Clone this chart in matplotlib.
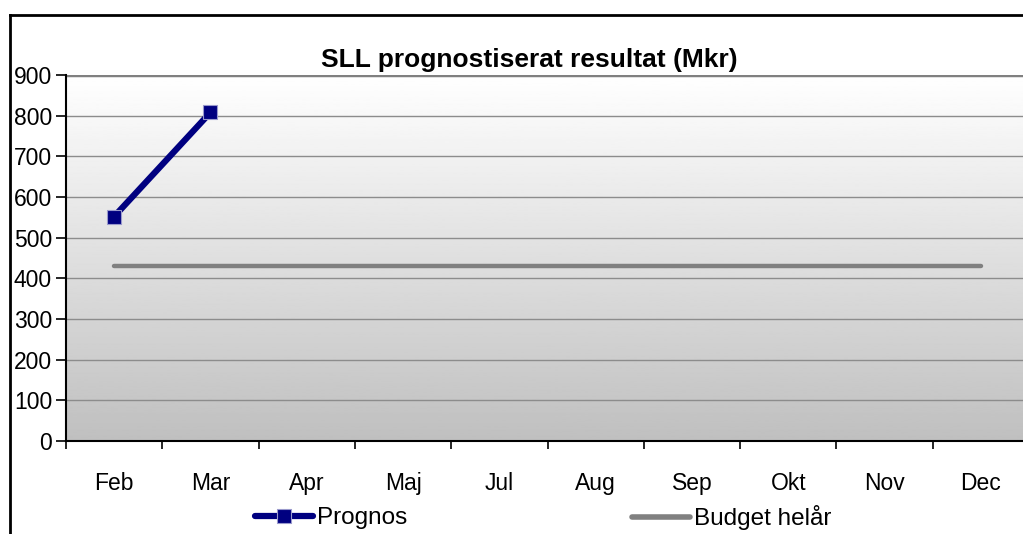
import numpy as np
import matplotlib.pyplot as plt
from matplotlib.lines import Line2D

plt.rcParams['font.family'] = ['Liberation Sans', 'DejaVu Sans']

months = ['Feb', 'Mar', 'Apr', 'Maj', 'Jul', 'Aug', 'Sep', 'Okt', 'Nov', 'Dec']
prognos = [552, 808]
budget = [430] * len(months)

W, H = 1023, 534
fig = plt.figure(figsize=(W / 100, H / 100), dpi=100)

# plot area (runs a bit past the right edge, like the original)
left, right, top, bottom = 66, 1029, 75, 441
ax = fig.add_axes([left / W, 1 - bottom / H, (right - left) / W, (bottom - top) / H])

# vertical gradient background, white to grey
grad = np.linspace(1.0, 0.75, 256).reshape(-1, 1)
ax.imshow(grad, cmap='gray', vmin=0, vmax=1, aspect='auto',
          extent=[0, 1, 0, 1], transform=ax.transAxes, zorder=0)

x = np.arange(len(months))
ax.plot(x, budget, color='#808080', lw=3.2, solid_capstyle='round', zorder=3)
ax.plot(x[:len(prognos)], prognos, color='#000080', lw=4.5, marker='s', ms=9.5,
        mfc='#000080', mec='#9999cc', mew=0.8, zorder=4)

ax.set_xlim(-0.5, len(months) - 0.5)
ax.set_ylim(0, 900)
ax.set_yticks(range(0, 901, 100))
ax.yaxis.grid(True, color='#8c8c8c', lw=1)
for gl in ax.get_ygridlines():
    gl.set_zorder(1)

ax.set_xticks(np.arange(-0.5, len(months) + 0.5, 1))
ax.set_xticklabels([])
ax.set_xticks(x, minor=True)
ax.set_xticklabels(months, minor=True, fontsize=16.5)
ax.tick_params(axis='x', which='minor', length=0, pad=22)
ax.tick_params(axis='x', which='major', direction='out', length=6, width=1.2, color='black')
ax.tick_params(axis='y', direction='out', length=7, width=1.2, labelsize=16.5, pad=3)

for s in ['top', 'right']:
    ax.spines[s].set_visible(False)
ax.spines['left'].set_linewidth(1.5)
ax.spines['bottom'].set_linewidth(1.5)
ax.axhline(900, color='#808080', lw=2.5, zorder=2)

fig.text(0.517, 1 - 60 / H, 'SLL prognostiserat resultat (Mkr)', ha='center',
         va='center', fontsize=19, fontweight='bold')

# outer chart border (left and top only visible)
fig.add_artist(Line2D([10 / W, 10 / W], [0, 1 - 15 / H], color='black', lw=2,
                      transform=fig.transFigure))
fig.add_artist(Line2D([10 / W, 1], [1 - 15 / H, 1 - 15 / H], color='black', lw=2,
                      transform=fig.transFigure))

h_prog = Line2D([], [], color='#000080', lw=4.5, marker='s', ms=9.5, mfc='#000080',
                mec='#9999cc', mew=0.8, solid_capstyle='round')
h_bud = Line2D([], [], color='#808080', lw=4, solid_capstyle='round')
for h, lab, xpos in [(h_prog, 'Prognos', 255), (h_bud, 'Budget helår', 632)]:
    fig.legend([h], [lab], loc='center left', bbox_to_anchor=(xpos / W, 1 - 518 / H),
               frameon=False, fontsize=17.5, handlelength=2.4, handletextpad=0.15,
               borderpad=0, borderaxespad=0)

fig.savefig('out.png', dpi=100)
